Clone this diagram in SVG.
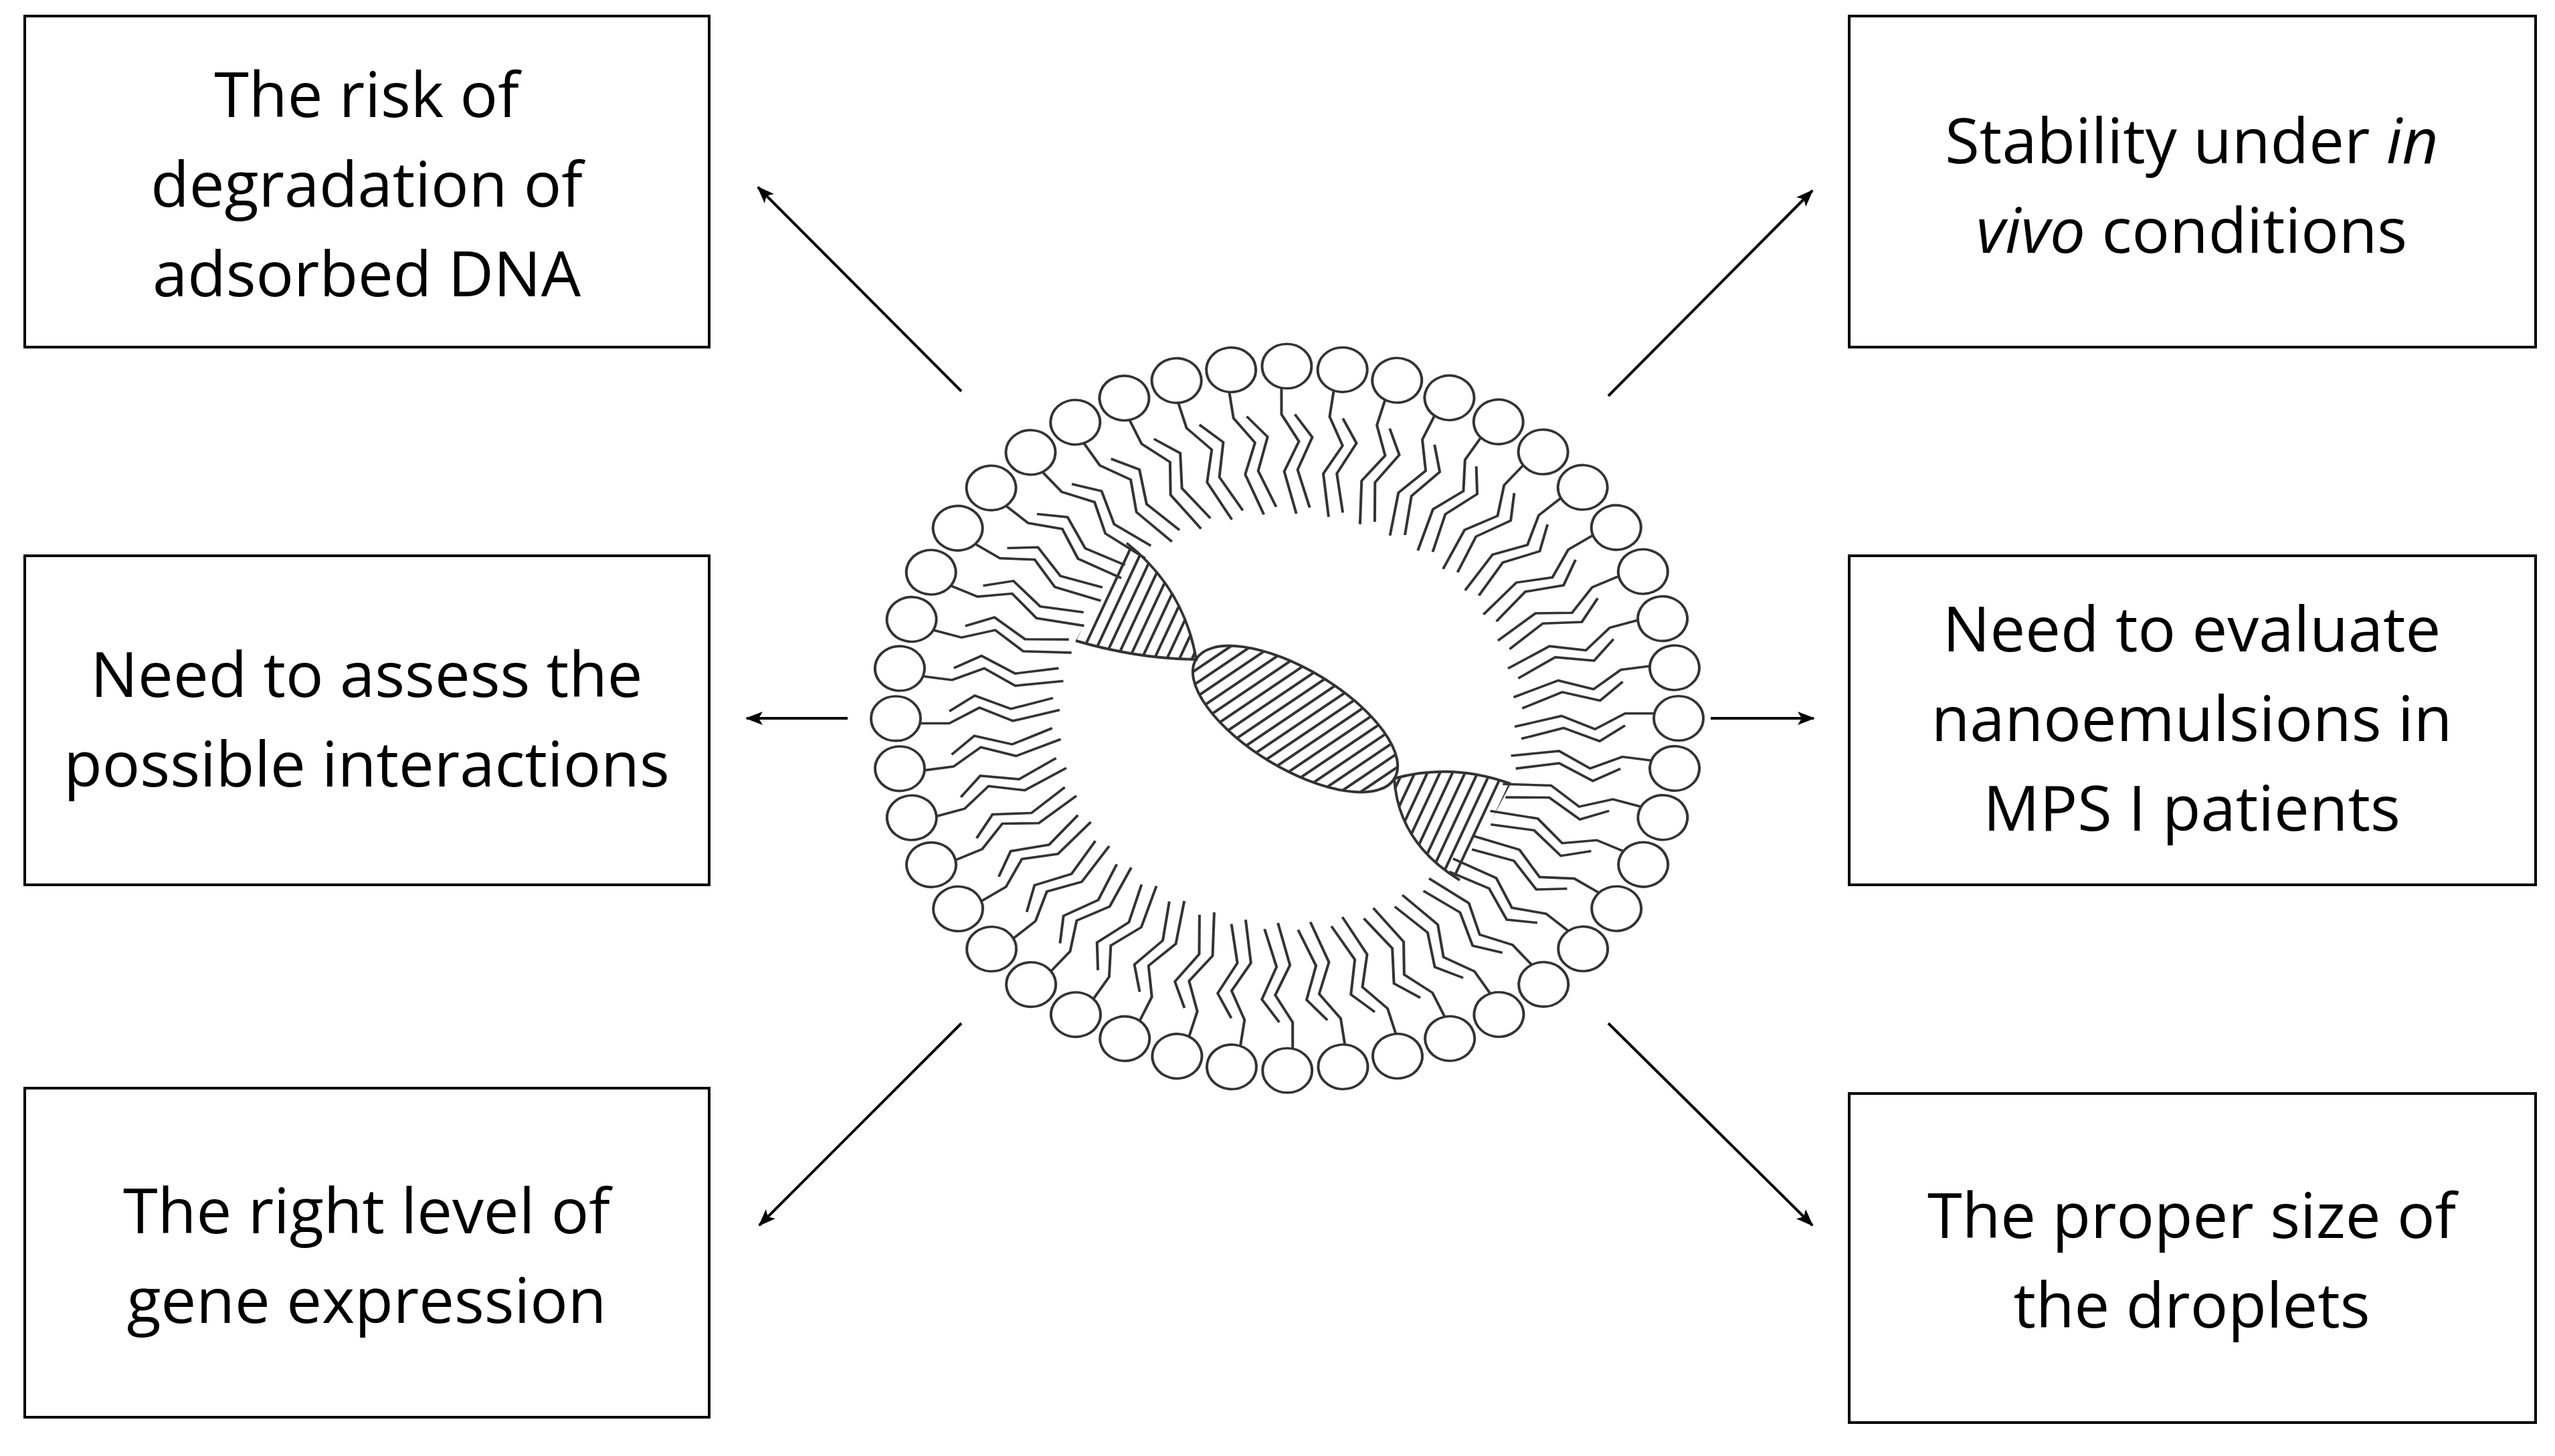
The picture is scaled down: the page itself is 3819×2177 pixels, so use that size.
<svg xmlns="http://www.w3.org/2000/svg" width="3819" height="2177" viewBox="0 0 3819 2177">
<style>
.box{fill:#fff;stroke:#000;stroke-width:4}
.t{font-family:"Open Sans","Liberation Sans",sans-serif;font-size:94px;text-anchor:middle;fill:#000}
.ln{fill:none;stroke:#000;stroke-width:4}
.lp{fill:none;stroke:#333;stroke-width:4}
.hd{fill:#fff;stroke:#333;stroke-width:4}
</style>
<defs>
<marker id="ah" markerWidth="26" markerHeight="20" refX="24" refY="10" orient="auto" markerUnits="userSpaceOnUse" viewBox="0 0 26 20"><path d="M0,0 L26,10 L0,20 L6,10 Z" fill="#000"/></marker>
<pattern id="hatch" width="17" height="17" patternUnits="userSpaceOnUse" patternTransform="rotate(25)"><line x1="8" y1="0" x2="8" y2="17" stroke="#333" stroke-width="4"/></pattern>
<g id="lip">
<path class="lp" d="M-37,-8 L-80,-8 L-125,18 L-175,-4 L-245,14"/>
<path class="lp" d="M-80,12 L-118,38 L-172,16 L-235,34"/>
<circle class="hd" cx="0" cy="0" r="37"/>
</g>
<clipPath id="c1"><path d="M1684,812 Q1770,880 1788,986 Q1700,985 1608,958 Z"/></clipPath>
<clipPath id="c3"><path d="M2084,1164 Q2170,1140 2258,1172 L2182,1316 Q2090,1260 2084,1164 Z"/></clipPath>
</defs>
<rect width="3819" height="2177" fill="#fff"/>
<g id="n1"><rect class="box" x="37" y="24" width="1023" height="495"/><text class="t" x="548" y="175">The risk of</text><text class="t" x="548" y="309">degradation of</text><text class="t" x="548" y="443">adsorbed DNA</text></g>
<g id="n2"><rect class="box" x="37" y="831" width="1023" height="492"/><text class="t" x="548" y="1042">Need to assess the</text><text class="t" x="548" y="1176">possible interactions</text></g>
<g id="n3"><rect class="box" x="37" y="1627" width="1023" height="492"/><text class="t" x="548" y="1844">The right level of</text><text class="t" x="548" y="1978">gene expression</text></g>
<g id="n4"><rect class="box" x="2764" y="24" width="1026" height="495"/><text class="t" x="3276" y="244">Stability under <tspan font-style="italic">in</tspan></text><text class="t" x="3276" y="378"><tspan font-style="italic">vivo</tspan> conditions</text></g>
<g id="n5"><rect class="box" x="2764" y="831" width="1026" height="492"/><text class="t" x="3276" y="974">Need to evaluate</text><text class="t" x="3276" y="1108">nanoemulsions in</text><text class="t" x="3276" y="1242">MPS I patients</text></g>
<g id="n6"><rect class="box" x="2764" y="1635" width="1026" height="492"/><text class="t" x="3276" y="1851">The proper size of</text><text class="t" x="3276" y="1985">the droplets</text></g>
<g id="center">
<g transform="translate(1924,1074) scale(1,0.9)">
<use href="#lip" transform="rotate(0) translate(585 0)"/><use href="#lip" transform="rotate(8.18) translate(585 0)"/><use href="#lip" transform="rotate(16.36) translate(585 0)"/><use href="#lip" transform="rotate(24.54) translate(585 0)"/><use href="#lip" transform="rotate(32.72) translate(585 0)"/><use href="#lip" transform="rotate(40.9) translate(585 0)"/><use href="#lip" transform="rotate(49.08) translate(585 0)"/><use href="#lip" transform="rotate(57.26) translate(585 0)"/><use href="#lip" transform="rotate(65.44) translate(585 0)"/><use href="#lip" transform="rotate(73.62) translate(585 0)"/><use href="#lip" transform="rotate(81.8) translate(585 0)"/><use href="#lip" transform="rotate(89.98) translate(585 0)"/><use href="#lip" transform="rotate(98.16) translate(585 0)"/><use href="#lip" transform="rotate(106.34) translate(585 0)"/><use href="#lip" transform="rotate(114.52) translate(585 0)"/><use href="#lip" transform="rotate(122.7) translate(585 0)"/><use href="#lip" transform="rotate(130.88) translate(585 0)"/><use href="#lip" transform="rotate(139.06) translate(585 0)"/><use href="#lip" transform="rotate(147.24) translate(585 0)"/><use href="#lip" transform="rotate(155.42) translate(585 0)"/><use href="#lip" transform="rotate(163.6) translate(585 0)"/><use href="#lip" transform="rotate(171.78) translate(585 0)"/><use href="#lip" transform="rotate(179.96) translate(585 0)"/><use href="#lip" transform="rotate(188.14) translate(585 0)"/><use href="#lip" transform="rotate(196.32) translate(585 0)"/><use href="#lip" transform="rotate(204.5) translate(585 0)"/><use href="#lip" transform="rotate(212.68) translate(585 0)"/><use href="#lip" transform="rotate(220.86) translate(585 0)"/><use href="#lip" transform="rotate(229.04) translate(585 0)"/><use href="#lip" transform="rotate(237.22) translate(585 0)"/><use href="#lip" transform="rotate(245.4) translate(585 0)"/><use href="#lip" transform="rotate(253.58) translate(585 0)"/><use href="#lip" transform="rotate(261.76) translate(585 0)"/><use href="#lip" transform="rotate(269.94) translate(585 0)"/><use href="#lip" transform="rotate(278.12) translate(585 0)"/><use href="#lip" transform="rotate(286.3) translate(585 0)"/><use href="#lip" transform="rotate(294.48) translate(585 0)"/><use href="#lip" transform="rotate(302.66) translate(585 0)"/><use href="#lip" transform="rotate(310.84) translate(585 0)"/><use href="#lip" transform="rotate(319.02) translate(585 0)"/><use href="#lip" transform="rotate(327.2) translate(585 0)"/><use href="#lip" transform="rotate(335.38) translate(585 0)"/><use href="#lip" transform="rotate(343.56) translate(585 0)"/><use href="#lip" transform="rotate(351.74) translate(585 0)"/>
</g>
<g id="dna">
<rect x="1600" y="800" width="200" height="200" fill="url(#hatch)" clip-path="url(#c1)"/>
<path class="lp" d="M1684,812 Q1770,880 1788,986 Q1700,985 1608,958"/>
<ellipse cx="1936" cy="1075" rx="173" ry="74" transform="rotate(31 1936 1075)" fill="url(#hatch)" stroke="#333" stroke-width="4"/>
<rect x="2075" y="1130" width="200" height="200" fill="url(#hatch)" clip-path="url(#c3)"/>
<path class="lp" d="M2258,1172 Q2170,1140 2084,1164 Q2090,1260 2182,1316"/>
</g>
</g>
<g id="connectors">
<line class="ln" x1="1437" y1="585" x2="1133" y2="280" marker-end="url(#ah)"/>
<line class="ln" x1="1267" y1="1074" x2="1116" y2="1074" marker-end="url(#ah)"/>
<line class="ln" x1="1437" y1="1530" x2="1135" y2="1832" marker-end="url(#ah)"/>
<line class="ln" x1="2404" y1="592" x2="2709" y2="285" marker-end="url(#ah)"/>
<line class="ln" x1="2557" y1="1074" x2="2711" y2="1074" marker-end="url(#ah)"/>
<line class="ln" x1="2404" y1="1530" x2="2709" y2="1832" marker-end="url(#ah)"/>
</g>
</svg>
